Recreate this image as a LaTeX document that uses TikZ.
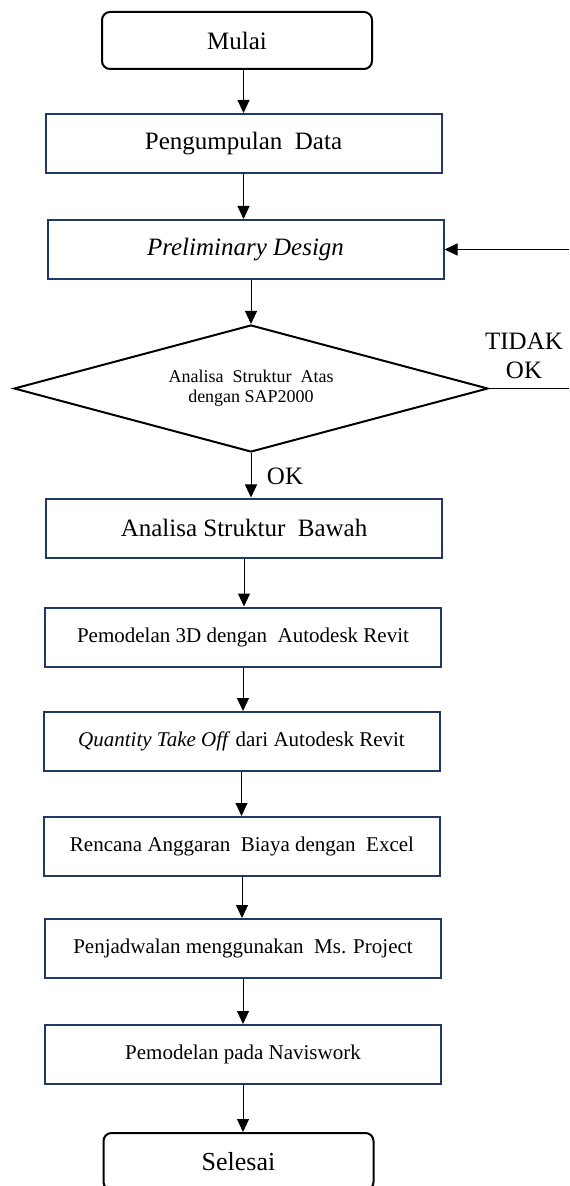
\documentclass[tikz,border=0pt]{standalone}
\usepackage{fontspec}
\setmainfont{Liberation Serif}
\usetikzlibrary{arrows.meta,shapes.geometric}
\definecolor{garisbiru}{HTML}{1F3864}

\begin{document}
\begin{tikzpicture}[x=0.5pt,y=-0.5pt,
  proses/.style={rectangle,draw=garisbiru,line width=1pt,minimum width=198pt,minimum height=29.5pt,inner sep=0pt,font=\fontsize{10.5}{12.5}\selectfont},
  terminal/.style={rectangle,rounded corners=4pt,draw,line width=1pt,minimum width=135pt,minimum height=28.5pt,font=\fontsize{12.5}{15}\selectfont},
  keputusan/.style={diamond,draw,line width=1pt,aspect=3.7,minimum width=237pt,minimum height=63.5pt,inner sep=0pt,align=center,font=\fontsize{9}{10}\selectfont},
  keterangan/.style={align=center,inner sep=0pt,font=\fontsize{12.5}{14.5}\selectfont},
  panah/.style={-{Triangle[length=6.5pt,width=6pt]},line width=.5pt}]
  \useasboundingbox (0,0) rectangle (569,1186);

  \node[terminal] (mulai) at (237,40.5) {Mulai};
  \node[proses,font=\fontsize{12.5}{15}\selectfont] (data) at (243.5,143.5) {Pengumpulan\ \ Data};
  \node[proses,font=\fontsize{12.5}{15}\itshape] (prelim) at (245.5,249.5) {Preliminary Design};
  \node[keputusan] (analisa) at (251,388.5) {Analisa\ \ Struktur\ \ Atas\\dengan SAP2000};
  \node[proses,font=\fontsize{12.5}{15}\selectfont] (bawah) at (244,528) {Analisa Struktur\ \ Bawah};
  \node[proses] (model) at (243,637) {Pemodelan 3D dengan\ \ Autodesk Revit};
  \node[proses] (qto) at (241.5,741.5) {\textit{Quantity Take Off} dari Autodesk Revit};
  \node[proses] (rab) at (242,846.5) {Rencana Anggaran\ \ Biaya dengan\ \ Excel};
  \node[proses] (jadwal) at (243,948.5) {Penjadwalan menggunakan\ \ Ms. Project};
  \node[proses] (navis) at (243,1054.5) {Pemodelan pada Naviswork};
  \node[terminal,font=\fontsize{13}{15}\selectfont] (selesai) at (238.5,1161.5) {Selesai};

  \node[keterangan] (tidak) at (524,356) {TIDAK\\OK};
  \node[keterangan] (ok) at (285,476) {OK};
  \coordinate (balikatas) at (569,249.5);
  \coordinate (balikbawah) at (569,388.5);

  \draw[panah] (mulai.south -| data.north) -- (data.north);
  \draw[panah] (data.south) -- (data.south |- prelim.north);
  \draw[panah] (prelim.south -| analisa.north) -- (analisa.north);
  \draw[panah] (analisa.south) -- (analisa.south |- bawah.north);
  \draw[panah] (bawah.south) -- (bawah.south |- model.north);
  \draw[panah] (model.south) -- (model.south |- qto.north);
  \draw[panah] (qto.south) -- (qto.south |- rab.north);
  \draw[panah] (rab.south) -- (rab.south |- jadwal.north);
  \draw[panah] (jadwal.south) -- (jadwal.south |- navis.north);
  \draw[panah] (navis.south) -- (navis.south |- selesai.north);
  \draw[line width=.5pt] (analisa.east) -- (balikbawah);
  \draw[panah] (balikatas) -- (prelim.east);
\end{tikzpicture}
\end{document}
